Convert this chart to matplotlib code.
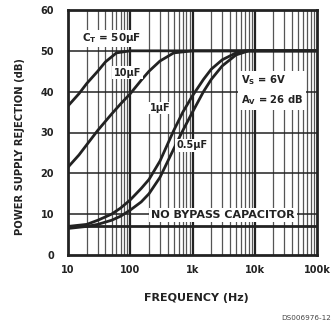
import matplotlib
matplotlib.use("Agg")
import matplotlib.pyplot as plt
import numpy as np

# PSRR vs frequency for several bypass capacitor values
freq_50u = [10, 15, 20, 30, 40, 60, 100, 1000, 100000]
psrr_50u = [36.5, 39.5, 42.0, 45.0, 47.3, 49.5, 50.0, 50.0, 50.0]

freq_10u = [10, 15, 20, 30, 50, 70, 100, 150, 200, 300, 500, 1000, 100000]
psrr_10u = [21.5, 24.5, 27.0, 30.5, 34.5, 37.0, 39.5, 42.8, 45.0, 47.5, 49.5, 50.0, 50.0]

freq_1u = [10, 20, 30, 50, 70, 100, 150, 200, 300, 500, 700, 1000, 1500, 2000, 3000, 5000, 7000, 100000]
psrr_1u = [7.0, 7.5, 8.5, 10.0, 11.5, 13.5, 16.3, 18.5, 23.0, 30.5, 35.0, 39.0, 43.0, 45.5, 47.8, 49.5, 50.0, 50.0]

freq_05u = [10, 20, 30, 50, 70, 100, 150, 200, 300, 500, 700, 1000, 1500, 2000, 3000, 5000, 8000, 100000]
psrr_05u = [6.5, 7.0, 7.5, 8.5, 9.5, 11.0, 13.0, 15.0, 19.0, 26.0, 30.5, 35.0, 40.0, 43.0, 46.3, 49.0, 50.0, 50.0]

freq_nobypass = [10, 100000]
psrr_nobypass = [7.0, 7.0]

y_ticks = [0, 10, 20, 30, 40, 50, 60]
x_ticks = [10, 100, 1000, 10000, 100000]
x_tick_labels = ["10", "100", "1k", "10k", "100k"]

W, H = 333, 325
fig = plt.figure(figsize=(W / 100, H / 100), dpi=100)
ax = fig.add_axes([68 / W, 1 - 255 / H, (317 - 68) / W, (255 - 10) / H])

ax.set_xscale("log")
ax.set_xlim(10, 100000)
ax.set_ylim(0, 60)

ink = "#222222"
font = dict(family="DejaVu Sans", fontweight="bold", color=ink)

# grid: decade lines heavier than the in-decade lines
for dec in [10, 100, 1000, 10000]:
    for m in range(2, 10):
        ax.axvline(dec * m, color="#555555", lw=0.9, zorder=1)
for dec in [100, 1000, 10000]:
    ax.axvline(dec, color=ink, lw=1.6, zorder=1)
for yv in [10, 20, 30, 40, 50]:
    ax.axhline(yv, color=ink, lw=1.1, zorder=1)

for fx, py in [(freq_50u, psrr_50u), (freq_10u, psrr_10u), (freq_1u, psrr_1u),
               (freq_05u, psrr_05u), (freq_nobypass, psrr_nobypass)]:
    ax.plot(fx, py, color=ink, lw=2.0, zorder=3, solid_capstyle="round")

for s in ax.spines.values():
    s.set_linewidth(2.0)
    s.set_color(ink)

ax.set_yticks(y_ticks)
ax.set_yticklabels([str(v) for v in y_ticks], **font, fontsize=7)
ax.set_xticks(x_ticks)
ax.set_xticklabels(x_tick_labels, **font, fontsize=7)
ax.xaxis.set_minor_locator(matplotlib.ticker.NullLocator())
ax.tick_params(axis="y", length=0, pad=10)
ax.tick_params(axis="x", length=0, pad=7)

box = dict(boxstyle="square,pad=0.15", fc="white", ec="none")
ax.text(51, 53.1, "C$_\\mathbf{T}$ = 50\u00b5F", ha="center", va="center", fontsize=7.5, bbox=box, zorder=4, **font)
ax.text(90, 44.6, "10\u00b5F", ha="center", va="center", fontsize=7, bbox=box, zorder=4, **font)
ax.text(300, 36.0, "1\u00b5F", ha="center", va="center", fontsize=7, bbox=box, zorder=4, **font)
ax.text(980, 26.9, "0.5\u00b5F", ha="center", va="center", fontsize=7, bbox=box, zorder=4, **font)
ax.text(6000, 40.3, "V$_\\mathbf{S}$ = 6V\nA$_\\mathbf{V}$ = 26 dB", ha="left", va="center",
        fontsize=7.2, linespacing=1.6, bbox=dict(boxstyle="square,pad=0.3", fc="white", ec="none"),
        zorder=4, **font)
ax.text(3100, 9.8, "NO BYPASS CAPACITOR", ha="center", va="center", fontsize=8,
        bbox=dict(boxstyle="square,pad=0.2", fc="white", ec="none"), zorder=4, **font)

fig.text(20 / W, 1 - 147 / H, "POWER SUPPLY REJECTION (dB)", rotation=90, ha="center", va="center",
         fontsize=7.2, **font)
fig.text(196 / W, 1 - 298 / H, "FREQUENCY (Hz)", ha="center", va="center", fontsize=8, **font)
fig.text(331 / W, 1 - 318 / H, "DS006976-12", ha="right", va="center", fontsize=5.2,
         family="DejaVu Sans", color="#444444")

fig.savefig("out.png", dpi=100)
